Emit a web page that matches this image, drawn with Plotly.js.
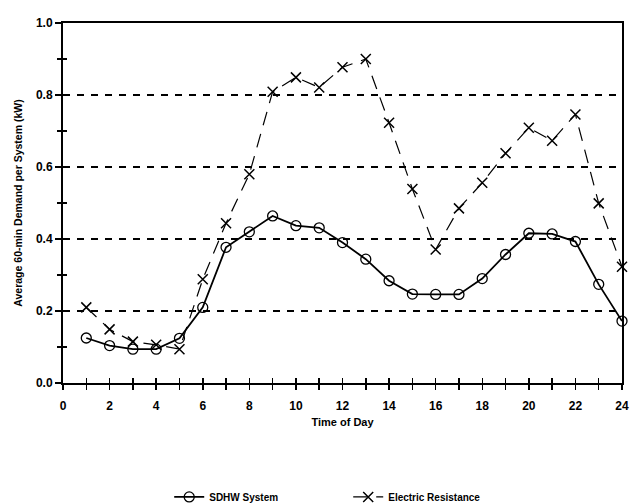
<!DOCTYPE html>
<html><head><meta charset="utf-8">
<script src="https://cdn.plot.ly/plotly-3.0.1.min.js"></script>
<style>html,body{margin:0;padding:0;background:#fff}</style>
</head><body>
<div id="chart" style="width:630px;height:504px"></div>
<script>
const hours = [1,2,3,4,5,6,7,8,9,10,11,12,13,14,15,16,17,18,19,20,21,22,23,24];
const sdhw = [0.125,0.104,0.094,0.094,0.124,0.21,0.377,0.42,0.464,0.437,0.431,0.39,0.344,0.284,0.247,0.246,0.246,0.29,0.357,0.416,0.414,0.393,0.274,0.172];
const electric = [0.21,0.149,0.115,0.106,0.094,0.288,0.444,0.58,0.809,0.849,0.821,0.877,0.9,0.723,0.539,0.371,0.485,0.556,0.638,0.709,0.673,0.746,0.499,0.323];
const xTickVals = [0,2,4,6,8,10,12,14,16,18,20,22,24];
const yTickVals = [0,0.2,0.4,0.6,0.8,1.0];
const yTickText = ['0.0','0.2','0.4','0.6','0.8','1.0'];

const font = {family:'Liberation Sans, Arial, sans-serif', color:'#000'};
const traces = [
  {x:hours, y:sdhw, name:'SDHW System', type:'scatter', mode:'lines+markers',
   line:{color:'#000', width:1.8},
   marker:{symbol:'circle-open', size:10, color:'#000', line:{width:1.3,color:'#000'}},
   cliponaxis:false},
  {x:hours, y:electric, name:'Electric Resistance', type:'scatter', mode:'lines+markers',
   line:{color:'#000', width:1.2, dash:'14px,9px'},
   marker:{symbol:'x-thin-open', size:10, color:'#000', line:{width:1.5,color:'#000'}},
   cliponaxis:false}
];
const layout = {
  width:630, height:504,
  margin:{l:63, r:8, t:23, b:121, autoexpand:false},
  paper_bgcolor:'#fff', plot_bgcolor:'#fff',
  showlegend:true,
  legend:{orientation:'h', x:0.19, xanchor:'left', yref:'container', y:0.014, yanchor:'middle',
    font:{family:font.family, size:10, color:'#000', weight:'bold'}, itemwidth:30,
    entrywidth:134, tracegroupgap:0, bgcolor:'rgba(0,0,0,0)'},
  xaxis:{range:[0,24], tickvals:xTickVals, ticks:'outside', ticklen:5, tickwidth:1.5, tickcolor:'#000',
    minor:{dtick:1, tick0:0, ticks:'outside', ticklen:5, tickwidth:1.5, tickcolor:'#000', showgrid:false},
    showline:true, linewidth:2, linecolor:'#000', mirror:true, showgrid:false, zeroline:false,
    ticklabelstandoff:6,
    tickfont:{family:font.family, size:12, color:'#000', weight:'bold'},
    title:{text:'Time of Day', font:{family:font.family, size:11, color:'#000', weight:'bold'}, standoff:6}},
  yaxis:{range:[0,1.0], tickvals:yTickVals, ticktext:yTickText, ticks:'outside', ticklen:6, tickwidth:1.5, tickcolor:'#000',
    minor:{dtick:0.1, tick0:0, ticks:'outside', ticklen:4, tickwidth:1.5, tickcolor:'#000', showgrid:false},
    showline:true, linewidth:2, linecolor:'#000', mirror:true,
    showgrid:true, gridcolor:'#000', gridwidth:1.1, griddash:'7px,7px', zeroline:false,
    tickfont:{family:font.family, size:12, color:'#000', weight:'bold'},
    title:{text:'Average 60-min Demand per System (kW)', font:{family:font.family, size:10.5, color:'#000', weight:'bold'}, standoff:11}},
  xaxis2:{overlaying:'x', range:[0,24], tickvals:xTickVals, ticks:'inside', ticklen:5, tickwidth:1.5, tickcolor:'#000',
    minor:{dtick:1, tick0:0, ticks:'inside', ticklen:5, tickwidth:1.5, tickcolor:'#000'},
    showticklabels:false, showgrid:false, zeroline:false, anchor:'y', side:'bottom'},
  yaxis2:{overlaying:'y', range:[0,1.0], tickvals:yTickVals, ticks:'inside', ticklen:5, tickwidth:1.5, tickcolor:'#000',
    minor:{dtick:0.1, tick0:0, ticks:'inside', ticklen:4, tickwidth:1.5, tickcolor:'#000'},
    showticklabels:false, showgrid:false, zeroline:false, anchor:'x', side:'left'}
};
// dummy trace to activate overlay axes
traces.push({x:[0], y:[0], xaxis:'x2', yaxis:'y2', mode:'markers', marker:{opacity:0}, showlegend:false, hoverinfo:'skip'});
Plotly.newPlot('chart', traces, layout, {displayModeBar:false, staticPlot:true});
</script>
</body></html>
